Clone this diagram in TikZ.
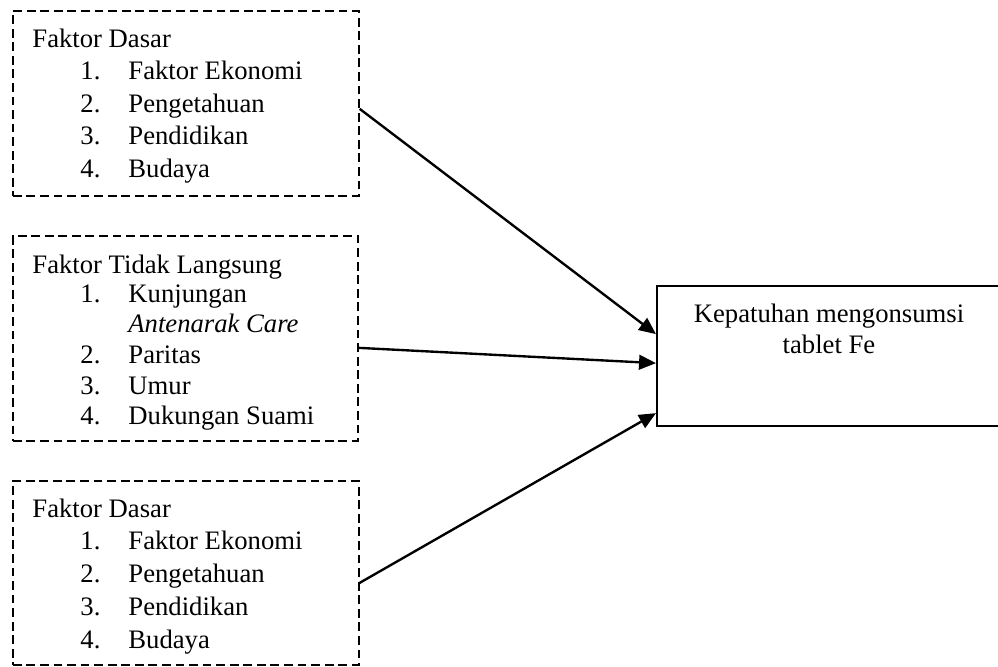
\documentclass[tikz,border=0pt]{standalone}
\usepackage{fontspec}
\setmainfont{Liberation Serif}
\usetikzlibrary{calc, arrows.meta}
\newcommand{\satuan}{0.4425pt}

\begin{document}
\begin{tikzpicture}[x=\satuan, y=-\satuan,
	kotak/.style={draw, line width=0.75pt, dash pattern=on 3.9pt off 2.1pt, anchor=north west, inner sep=0pt},
	tujuan/.style={draw, line width=1pt, anchor=north west, inner sep=0pt},
	teks/.style={anchor=base west, inner sep=0pt, font=\fontsize{11.8}{14}\selectfont},
	panah/.style={line width=1.05pt, -{Triangle[length=7.5pt, width=6.5pt]}}]
	\useasboundingbox (0,0) rectangle (998,666);
	
	\node[kotak, minimum width=346*\satuan, minimum height=185*\satuan] (dasar) at (12,10) {};
	\node[kotak, minimum width=345*\satuan, minimum height=205*\satuan] (tidaklangsung) at (12,235) {};
	\node[kotak, minimum width=346*\satuan, minimum height=184*\satuan] (dasarb) at (12,480) {};
	\node[tujuan, minimum width=350*\satuan, minimum height=140*\satuan] (patuh) at (656,285) {};
	
	\node[teks] (dasarjudul) at (32,47) {Faktor Dasar};
	\foreach \i/\isi in {1/Faktor Ekonomi, 2/Pengetahuan, 3/Pendidikan, 4/Budaya}{
		\node[teks] (dasarno\i) at (80,47+32.5*\i) {\i.};
		\node[teks] (dasarisi\i) at (128,47+32.5*\i) {\isi};
	}
	
	\node[teks] (tljudul) at (32,273) {Faktor Tidak Langsung};
	\node[teks] (tlno1) at (80,302) {1.};
	\node[teks] (tlisi1) at (128,302) {Kunjungan};
	\node[teks] (tlisi1b) at (128,332) {\itshape Antenarak Care};
	\node[teks] (tlno2) at (80,363) {2.};
	\node[teks] (tlisi2) at (128,363) {Paritas};
	\node[teks] (tlno3) at (80,394) {3.};
	\node[teks] (tlisi3) at (128,394) {Umur};
	\node[teks] (tlno4) at (80,424) {4.};
	\node[teks] (tlisi4) at (128,424) {Dukungan Suami};
	
	\node[teks] (dasarbjudul) at (32,517) {Faktor Dasar};
	\foreach \i/\isi in {1/Faktor Ekonomi, 2/Pengetahuan, 3/Pendidikan, 4/Budaya}{
		\node[teks] (dasarbno\i) at (80,517+32.75*\i) {\i.};
		\node[teks] (dasarbisi\i) at (128,517+32.75*\i) {\isi};
	}
	
	\node[teks, anchor=base] (patuhsatu) at (829,322) {Kepatuhan mengonsumsi};
	\node[teks, anchor=base] (patuhdua) at (829,353) {tablet Fe};
	
	\draw[panah] ($(dasar.east)+(0,5.5)$) -- ($(patuh.west)+(0,-22)$);
	\draw[panah] ($(tidaklangsung.east)+(0,9.5)$) -- ($(patuh.west)+(0,7)$);
	\draw[panah] ($(dasarb.east)+(0,10)$) -- ($(patuh.west)+(0,57)$);
\end{tikzpicture}
\end{document}
